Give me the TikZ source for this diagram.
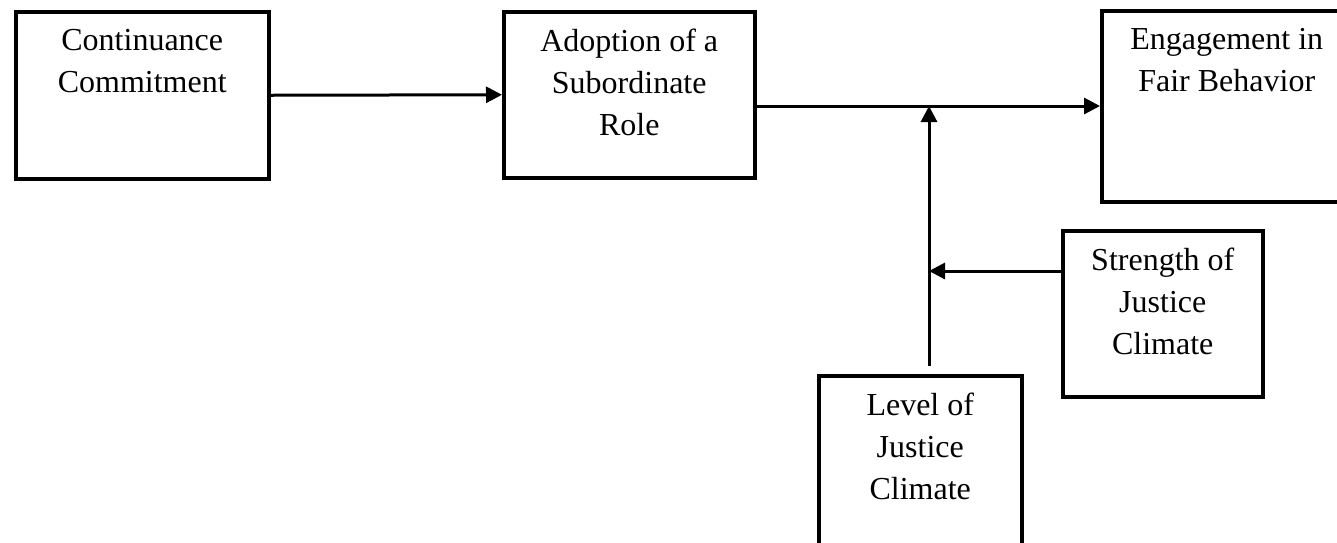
\documentclass[tikz,border=0pt]{standalone}
\usepackage{fontspec}
\setmainfont{Liberation Serif}
\usetikzlibrary{arrows.meta}
\begin{document}
\begin{tikzpicture}[x=1pt,y=-1pt,
  box/.style={draw=black, line width=3.5pt, anchor=north west, inner sep=0pt, minimum width=#1},
  lbl/.style={anchor=north, inner sep=0pt, align=center, font=\fontsize{32}{42}\selectfont, yshift=-19pt},
  conn/.style={line width=3pt, -{Triangle[length=16pt,width=16pt]}}]
\useasboundingbox (0,0) rectangle (1337,542);
\node[box=253pt, minimum height=167pt] (b1) at (14,10) {};
\node[box=251pt, minimum height=166pt] (b2) at (502,10) {};
\node[box=250pt, minimum height=191pt] (b3) at (1100,9) {};
\node[box=200pt, minimum height=166pt] (b4) at (1061,229) {};
\node[box=203pt, minimum height=190pt] (b5) at (817,374) {};
\node[lbl] (t1) at (b1.north) {Continuance\\Commitment};
\node[lbl] (t2) at (b2.north) {Adoption of a\\Subordinate\\Role};
\node[lbl] (t3) at (b3.north) {Engagement in\\Fair Behavior};
\node[lbl] (t4) at (b4.north) {Strength of\\Justice\\Climate};
\node[lbl] (t5) at (b5.north) {Level of\\Justice\\Climate};
\coordinate (j) at (929,106);
\coordinate (lv) at (929,366);
\coordinate (sj) at (929,271);
\draw[conn] (b1.east) -- (b2.west);
\draw[conn] (b2.east |- j) -- (b3.west |- j);
\draw[conn] (lv) -- (j);
\draw[conn] (b4.west |- sj) -- (sj);
\end{tikzpicture}
\end{document}
